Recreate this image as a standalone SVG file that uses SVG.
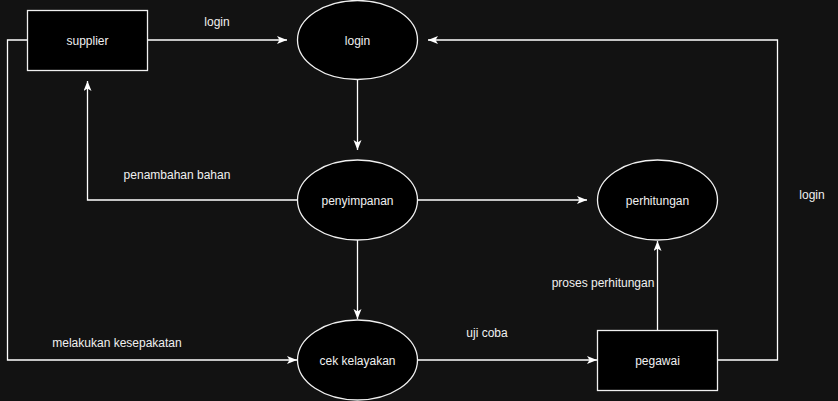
<svg xmlns="http://www.w3.org/2000/svg" width="838" height="401" viewBox="0 0 838 401">
<defs>
<style>
.node{fill:#000000;stroke:#f0f0f0;stroke-width:1.3}
.edge{fill:none;stroke:#ffffff;stroke-width:1.3}
.lbl{font-family:"Liberation Sans",Arial,sans-serif;font-size:12px;fill:#f0f0f0;text-anchor:middle;dominant-baseline:central}
</style>
<marker id="arr" markerUnits="userSpaceOnUse" markerWidth="12" markerHeight="10" refX="10" refY="4" orient="auto">
<path d="M0,0 L10,4 L0,8 L2.5,4 Z" fill="#ffffff"/>
</marker>
</defs>
<rect x="0" y="0" width="838" height="401" fill="#121212"/>
<g id="connectors">
<path class="edge" d="M147.5,40 L287,40" marker-end="url(#arr)"/>
<path class="edge" d="M717.5,360 L777.5,360 L777.5,40 L428,40" marker-end="url(#arr)"/>
<path class="edge" d="M357.5,80 L357.5,150" marker-end="url(#arr)"/>
<path class="edge" d="M297.5,200 L87.5,200 L87.5,81" marker-end="url(#arr)"/>
<path class="edge" d="M417.5,200 L587,200" marker-end="url(#arr)"/>
<path class="edge" d="M357.5,240 L357.5,319" marker-end="url(#arr)"/>
<path class="edge" d="M27.5,40 L7.5,40 L7.5,360 L297,360" marker-end="url(#arr)"/>
<path class="edge" d="M417.5,360 L597,360" marker-end="url(#arr)"/>
<path class="edge" d="M657.5,330 L657.5,241" marker-end="url(#arr)"/>
<text class="lbl" x="217" y="22">login</text>
<text class="lbl" x="177" y="175">penambahan bahan</text>
<text class="lbl" x="117" y="343">melakukan kesepakatan</text>
<text class="lbl" x="487" y="333">uji coba</text>
<text class="lbl" x="603" y="283">proses perhitungan</text>
<text class="lbl" x="812" y="195">login</text>
</g>
<g id="supplier">
<rect class="node" x="27.5" y="10.5" width="120" height="60"/>
<text class="lbl" x="87.5" y="40.5">supplier</text>
</g>
<g id="login">
<ellipse class="node" cx="357.5" cy="40" rx="60" ry="39.5"/>
<text class="lbl" x="357.5" y="40.5">login</text>
</g>
<g id="penyimpanan">
<ellipse class="node" cx="357.5" cy="200" rx="60" ry="40"/>
<text class="lbl" x="357.5" y="200.5">penyimpanan</text>
</g>
<g id="perhitungan">
<ellipse class="node" cx="657.5" cy="200" rx="60" ry="40"/>
<text class="lbl" x="657.5" y="200.5">perhitungan</text>
</g>
<g id="cek_kelayakan">
<ellipse class="node" cx="357.5" cy="360" rx="60" ry="40"/>
<text class="lbl" x="357.5" y="360.5">cek kelayakan</text>
</g>
<g id="pegawai">
<rect class="node" x="597.5" y="330.5" width="120" height="60"/>
<text class="lbl" x="657.5" y="360.5">pegawai</text>
</g>
</svg>
